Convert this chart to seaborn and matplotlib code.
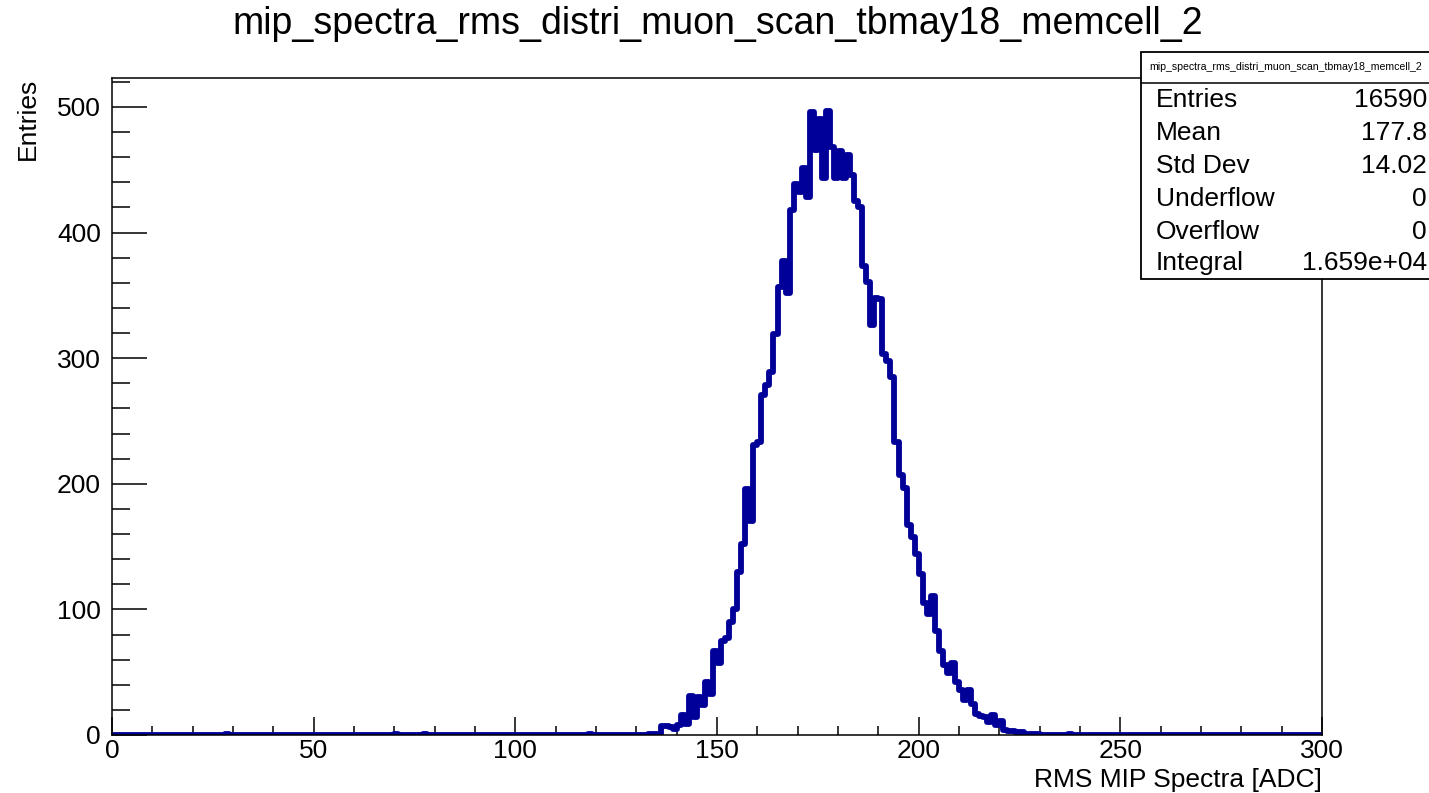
import numpy as np
import pandas as pd
import matplotlib
matplotlib.use("Agg")
import matplotlib.pyplot as plt
import seaborn as sns
from matplotlib.ticker import MultipleLocator
from matplotlib.patches import Rectangle
from matplotlib.lines import Line2D

# ---------------- data ----------------
title = "mip_spectra_rms_distri_muon_scan_tbmay18_memcell_2"
x_label = "RMS MIP Spectra [ADC]"
y_label = "Entries"
n_bins = 300
x_range = (0, 300)

# bin contents (1 ADC wide bins) from bin 133 upward
peak_first_bin = 133
peak_counts = [
    1, 1, 0, 7, 7, 6, 5, 8, 16, 9,            # 133-142
    31, 14, 30, 24, 42, 33, 67, 57, 75, 77,   # 143-152
    90, 100, 130, 152, 196, 170, 231, 233, 271, 279,  # 153-162
    289, 319, 357, 377, 352, 418, 439, 432, 451, 428,  # 163-172
    496, 466, 490, 443, 497, 468, 443, 465, 443, 462,  # 173-182
    446, 425, 420, 373, 361, 326, 348, 347, 303, 298,  # 183-192
    285, 233, 207, 197, 167, 158, 144, 128, 105, 96,   # 193-202
    111, 83, 67, 56, 49, 57, 42, 36, 28, 36,           # 203-212
    25, 17, 15, 14, 10, 16, 8, 11, 4, 3,               # 213-222
    3, 2, 2, 1, 1, 1, 1,                               # 223-229
]
isolated_bins = [28, 70, 77, 118, 237]
isolated_counts = [1, 1, 1, 1, 1]

stats_header = "mip_spectra_rms_distri_muon_scan_tbmay18_memcell_2"
stats_labels = ["Entries", "Mean", "Std Dev", "Underflow", "Overflow", "Integral"]
stats_values = ["16590", "177.8", "14.02", "0", "0", "1.659e+04"]

# ---------------- build table ----------------
counts = np.zeros(n_bins)
counts[peak_first_bin:peak_first_bin + len(peak_counts)] = peak_counts
counts[isolated_bins] = isolated_counts
centers = np.arange(n_bins) + 0.5
df = pd.DataFrame({"x": centers, "w": counts})

# ---------------- style ----------------
sns.set_theme(style="white")
plt.rcParams["font.family"] = ["Liberation Sans", "DejaVu Sans"]

W, H = 1429, 793
fig = plt.figure(figsize=(W / 100, H / 100), dpi=100)
fig.patch.set_facecolor("white")

ax_l, ax_r, ax_t, ax_b = 112, 1322, 78, 735
ax = fig.add_axes([ax_l / W, 1 - ax_b / H, (ax_r - ax_l) / W, (ax_b - ax_t) / H])
ax.set_facecolor("white")

line_color = "#000099"
sns.histplot(data=df, x="x", weights="w", bins=n_bins, binrange=x_range,
             element="step", fill=False, color=line_color, linewidth=4.2, ax=ax)

ax.set_xlim(*x_range)
ax.set_ylim(0, 523)
ax.set_xlabel("")
ax.set_ylabel("")

ax.xaxis.set_major_locator(MultipleLocator(50))
ax.xaxis.set_minor_locator(MultipleLocator(10))
ax.yaxis.set_major_locator(MultipleLocator(100))
ax.yaxis.set_minor_locator(MultipleLocator(20))

ax.tick_params(axis="x", which="major", direction="in", length=13, width=1.1,
               colors="black", labelsize=19, pad=3, top=False, bottom=True)
ax.tick_params(axis="x", which="minor", direction="in", length=6.5, width=1.1,
               colors="black", top=False, bottom=True)
ax.tick_params(axis="y", which="major", direction="in", length=25, width=1.1,
               colors="black", labelsize=19, pad=8, right=False, left=True)
ax.tick_params(axis="y", which="minor", direction="in", length=13, width=1.1,
               colors="black", right=False, left=True)

for s in ax.spines.values():
    s.set_visible(True)
    s.set_color("black")
    s.set_linewidth(1.1)

# ---------------- texts ----------------
fig.text(0.502, 1 - 24 / H, title, ha="center", va="center", fontsize=27, color="black")
fig.text(ax_r / W, 1 - 780 / H, x_label, ha="right", va="center", fontsize=19, color="black")
fig.text(28 / W, 1 - ax_t / H, y_label, ha="center", va="top", rotation=90,
         fontsize=19, color="black")

# ---------------- stats box ----------------
bx_l, bx_t, bx_b = 1141, 52, 279
box = Rectangle((bx_l / W, 1 - bx_b / H), (W + 20 - bx_l) / W, (bx_b - bx_t) / H,
                transform=fig.transFigure, facecolor="white", edgecolor="black",
                linewidth=1.3, zorder=5, clip_on=False)
fig.add_artist(box)
sep = Line2D([bx_l / W, 1.01], [1 - 83 / H, 1 - 83 / H], transform=fig.transFigure,
             color="black", linewidth=1.1, zorder=6)
fig.add_artist(sep)
fig.text(1149 / W, 1 - 67 / H, stats_header, ha="left", va="center", fontsize=7.6,
         color="black", zorder=7)

row_y = [100, 133, 166, 199, 232, 263]
for lab, val, yy in zip(stats_labels, stats_values, row_y):
    fig.text(1156 / W, 1 - yy / H, lab, ha="left", va="center", fontsize=19,
             color="black", zorder=7)
    fig.text(1427 / W, 1 - yy / H, val, ha="right", va="center", fontsize=19,
             color="black", zorder=7)

fig.savefig("out.png", dpi=100, facecolor="white")
